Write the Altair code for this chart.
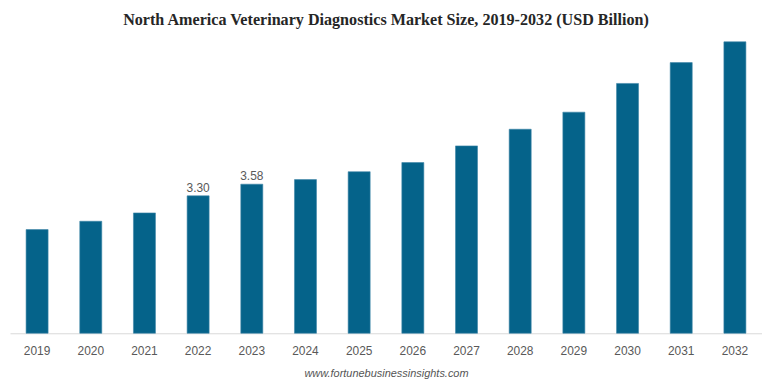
import altair as alt
import pandas as pd

years = ["2019", "2020", "2021", "2022", "2023", "2024", "2025", "2026",
         "2027", "2028", "2029", "2030", "2031", "2032"]
values = [2.49, 2.69, 2.89, 3.30, 3.58, 3.69, 3.88, 4.10,
          4.50, 4.90, 5.31, 6.00, 6.50, 7.00]
labels = ["", "", "", "3.30", "3.58", "", "", "", "", "", "", "", "", ""]

df = pd.DataFrame({"year": years, "value": values, "label": labels})

x = alt.X("year:N", sort=years,
          scale=alt.Scale(paddingInner=0.59, paddingOuter=0.3),
          axis=alt.Axis(title="www.fortunebusinessinsights.com",
                        titleFontStyle="italic", titleFontWeight="normal",
                        titleFont="Liberation Sans", titleFontSize=11,
                        titleColor="#555555", titlePadding=11,
                        labelAngle=0, labelFont="Liberation Sans",
                        labelFontSize=12, labelColor="#595959",
                        labelPadding=12, ticks=False,
                        domainColor="#d9d9d9", domainWidth=1, grid=False))
y = alt.Y("value:Q", scale=alt.Scale(domain=[0, 7.0], nice=False),
          axis=None)

bars = alt.Chart(df).mark_bar(color="#05638A", stroke="#3f86a8",
                              strokeWidth=0.6).encode(x=x, y=y)
text = alt.Chart(df).mark_text(dy=-8, font="Liberation Sans", fontSize=12,
                               color="#595959").encode(
    x=alt.X("year:N", sort=years), y="value:Q", text="label:N")

chart = (bars + text).properties(
    width=756, height=293,
    title=alt.TitleParams(
        "North America Veterinary Diagnostics Market Size, 2019-2032 (USD Billion)",
        font="Liberation Serif", fontSize=16.2, fontWeight="bold",
        color="#262626", anchor="middle", offset=0),
    padding={"left": 2, "top": 2, "right": 0, "bottom": 0},
).configure_view(stroke=None)

chart.save("out.html", embed_options={"renderer": "svg", "actions": False})
